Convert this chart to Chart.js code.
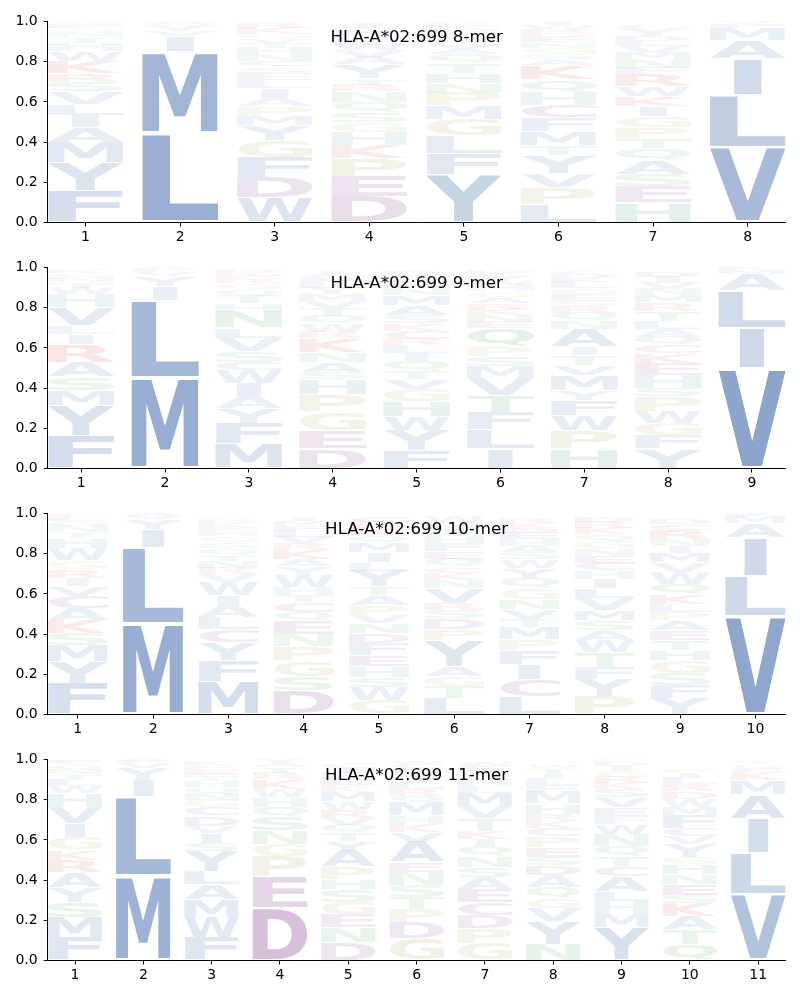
<!DOCTYPE html>
<html>
<head>
<meta charset="utf-8">
<script src="https://cdn.jsdelivr.net/npm/chart.js@4.4.0/dist/chart.umd.min.js"></script>
<style>
  body { margin: 0; background: #fff; }
  .panel { position: absolute; left: 0; width: 800px; height: 246px; }
</style>
</head>
<body>
<div class="panel" style="top:0px"><canvas id="logo8" width="800" height="246"></canvas></div>
<div class="panel" style="top:246px"><canvas id="logo9" width="800" height="246"></canvas></div>
<div class="panel" style="top:492px"><canvas id="logo10" width="800" height="246"></canvas></div>
<div class="panel" style="top:738px"><canvas id="logo11" width="800" height="246"></canvas></div>
<script>
// letters of each position, bottom to top, and their heights
var mer8Letters = ['FYMAILVSRKWHTNQEG', 'LMIVYQA', 'WDFGYMPAILESCNHTVQKR', 'DEPKHGSQNRTYAVWLMFCI',
  'YFLGMPNHTQAVSWEDKR', 'LPVYTMFCHQKASGNEDRWI', 'HESAQTPGIKWRFNMVLDYC', 'VLIAMFY'];
var mer8Heights = [
  [.16, .14, .10, .075, .06, .055, .06, .05, .04, .06, .05, .04, .03, .025, .02, .02, .015],
  [.445, .405, .075, .025, .025, .015, .01],
  [.125, .10, .10, .085, .075, .045, .05, .04, .05, .04, .035, .03, .03, .03, .035, .025, .02, .02, .03, .025],
  [.13, .10, .09, .065, .065, .05, .05, .05, .055, .03, .03, .07, .04, .03, .03, .02, .02, .02, .02, .025],
  [.24, .105, .085, .085, .065, .065, .05, .05, .05, .04, .03, .025, .02, .02, .015, .015, .015, .01],
  [.09, .085, .07, .09, .05, .07, .065, .065, .065, .06, .07, .03, .03, .03, .025, .025, .02, .02, .02, .02],
  [.10, .08, .06, .07, .06, .05, .055, .055, .05, .05, .05, .06, .03, .045, .03, .03, .025, .025, .04, .015],
  [.375, .26, .18, .09, .06, .02, .015]
];

var mer9Letters = ['FYMSARILVHWTNQK', 'MLIYVFA', 'MFYAIWCSVLNHTQGREKD', 'DEGPHSANKRWQTVMYLFCI',
  'FYWHGVTQILRCKSAMNEPD', 'ILFTVMSPQENKRAGHWYCD', 'HPWFYMVTIANQRSEGLKDC', 'YFGWPSHEKCQALTRMNVID', 'VILAMK'];
var mer9Heights = [
  [.165, .15, .075, .065, .075, .09, .05, .04, .09, .065, .03, .03, .025, .02, .02],
  [.45, .385, .07, .05, .02, .015, .01],
  [.125, .10, .075, .06, .065, .065, .04, .055, .065, .05, .08, .04, .04, .03, .03, .02, .02, .015, .015],
  [.10, .09, .095, .085, .075, .035, .05, .05, .07, .03, .04, .04, .04, .035, .03, .03, .025, .02, .02, .02],
  [.09, .10, .07, .075, .06, .05, .04, .05, .04, .04, .03, .04, .035, .04, .05, .05, .035, .03, .03, .025],
  [.10, .095, .085, .085, .085, .06, .05, .05, .09, .03, .035, .03, .025, .03, .03, .03, .02, .025, .015, .015],
  [.10, .09, .075, .075, .05, .075, .05, .05, .04, .09, .04, .04, .03, .03, .03, .03, .03, .02, .02, .015],
  [.10, .065, .06, .06, .075, .04, .065, .06, .05, .04, .04, .04, .04, .05, .04, .035, .03, .03, .03, .025],
  [.50, .20, .185, .08, .02, .015]
];

var mer10Letters = ['FYMSKACVIRGWHTNQLE', 'MLIYVA', 'MFYCLAIWVRNTQSGHEKDP', 'DSGPNEQCTHWYAKRVLFMI',
  'GWSHEFDNVPATYLIMQKRC', 'LTGAYPDSRVNKCQEFHIMW', 'LCIFPMTVNGQYWSAHEDKR', 'PYFTWASMVLIHCENGQKRD',
  'YFSGHTEAPLKQWVMINRCD', 'VLIAMFY'];
var mer10Heights = [
  [.155, .11, .08, .06, .065, .06, .06, .05, .04, .04, .045, .06, .05, .03, .03, .025, .02, .015],
  [.45, .38, .09, .05, .015, .015],
  [.165, .105, .09, .065, .06, .06, .05, .065, .04, .03, .035, .03, .03, .03, .03, .025, .02, .02, .015, .015],
  [.12, .07, .08, .07, .06, .065, .045, .05, .035, .04, .06, .04, .035, .05, .03, .03, .03, .025, .025, .02],
  [.07, .065, .05, .055, .055, .06, .05, .05, .04, .05, .05, .04, .08, .04, .05, .05, .035, .035, .03, .03],
  [.08, .06, .05, .05, .13, .055, .055, .04, .035, .075, .04, .035, .03, .04, .035, .04, .035, .035, .03, .03],
  [.09, .085, .075, .07, .055, .06, .04, .05, .05, .055, .05, .05, .04, .035, .035, .03, .03, .025, .025, .025],
  [.09, .085, .06, .075, .06, .05, .05, .05, .06, .05, .045, .04, .04, .035, .035, .035, .035, .03, .03, .025],
  [.08, .065, .06, .065, .05, .05, .05, .05, .04, .04, .05, .05, .06, .045, .05, .03, .035, .045, .03, .025],
  [.49, .20, .19, .07, .03, .01, .01]
];

var mer11Letters = ['FMSYARKGIVHWLTNQE', 'MLIYVFA', 'FWMALYSIVDCGNQHTEPK', 'DEPGNSQHWKRTAY',
  'DNEGSHPAYTQVRWMKLFIC', 'GDPTSNEAVKHMQRLIYFCW', 'GPDCEASNQIKTVMLHRYFW', 'NYVGQADSEPCKRHMFLITW',
  'YMHLACTQNWFEVSKRGIDP', 'QTAKSENHGYVCFMWDRLIP', 'VLIAMKEQT'];
var mer11Heights = [
  [.115, .10, .075, .075, .075, .06, .05, .065, .065, .08, .07, .035, .03, .03, .025, .025, .02],
  [.42, .395, .08, .06, .025, .01, .01],
  [.115, .10, .09, .075, .065, .10, .04, .05, .035, .05, .04, .04, .03, .03, .03, .03, .025, .025, .02],
  [.26, .155, .10, .065, .065, .07, .05, .045, .04, .05, .03, .03, .02, .02],
  [.09, .075, .065, .06, .065, .05, .06, .08, .05, .04, .04, .035, .04, .04, .05, .03, .03, .03, .025, .02],
  [.11, .08, .065, .06, .06, .065, .05, .10, .05, .04, .04, .065, .035, .03, .03, .025, .03, .02, .02, .015],
  [.085, .075, .065, .065, .065, .06, .05, .055, .05, .035, .04, .06, .06, .07, .03, .03, .03, .025, .02, .015],
  [.08, .115, .065, .05, .055, .06, .05, .04, .05, .055, .04, .035, .035, .05, .06, .03, .03, .025, .03, .015],
  [.165, .065, .065, .05, .075, .05, .05, .05, .06, .05, .04, .04, .05, .04, .03, .03, .03, .025, .02, .015],
  [.08, .075, .065, .065, .04, .055, .05, .05, .035, .065, .04, .04, .065, .04, .04, .035, .035, .03, .025, .02],
  [.33, .205, .17, .12, .07, .04, .02, .02, .015]
];

var titles = ['HLA-A*02:699 8-mer', 'HLA-A*02:699 9-mer', 'HLA-A*02:699 10-mer', 'HLA-A*02:699 11-mer'];
var yTicks = [0, 0.2, 0.4, 0.6, 0.8, 1.0];

// residue colours
var letterColors = {
  A: [76, 114, 176], C: [142, 80, 150], D: [142, 80, 150], E: [142, 80, 150],
  F: [76, 114, 176], G: [176, 168, 96], H: [80, 160, 150], I: [76, 114, 176],
  K: [210, 80, 76], L: [76, 114, 176], M: [76, 114, 176], N: [85, 168, 104],
  P: [176, 168, 96], Q: [85, 168, 104], R: [210, 80, 76], S: [85, 168, 104],
  T: [85, 168, 104], V: [76, 114, 176], W: [76, 114, 176], Y: [88, 128, 172]
};

var glyphFont = 'bold 100px "DejaVu Sans"';
var glyphCache = {};

function glyphBox(ctx, letter) {
  if (!glyphCache[letter]) {
    ctx.font = glyphFont;
    var m = ctx.measureText(letter);
    glyphCache[letter] = {
      left: m.actualBoundingBoxLeft,
      w: m.actualBoundingBoxLeft + m.actualBoundingBoxRight,
      desc: m.actualBoundingBoxDescent,
      h: m.actualBoundingBoxAscent + m.actualBoundingBoxDescent
    };
  }
  return glyphCache[letter];
}

// draws each stacked bar as a stretched letter
var logoPlugin = {
  id: 'logo',
  afterDatasetsDraw: function (chart) {
    var ctx = chart.ctx;
    var letters = chart.options.plugins.logo.letters;
    var heights = chart.options.plugins.logo.heights;
    var area = chart.chartArea;
    var refW = glyphBox(ctx, 'E').w;
    ctx.save();
    ctx.beginPath();
    ctx.rect(area.left, area.top - 1, area.right - area.left, area.bottom - area.top + 1);
    ctx.clip();
    chart.data.datasets.forEach(function (ds, k) {
      var meta = chart.getDatasetMeta(k);
      meta.data.forEach(function (bar, i) {
        var letter = letters[i][k];
        if (!letter) return;
        var p = bar.getProps(['x', 'y', 'base', 'width'], true);
        var top = Math.min(p.y, p.base), bottom = Math.max(p.y, p.base);
        var h = bottom - top;
        if (h < 0.5) return;
        var pad = h * 0.025;
        var g = glyphBox(ctx, letter);
        // narrow glyphs (I) keep their slimmer shape
        var w = p.width * Math.min(1, g.w / refW);
        var c = letterColors[letter];
        var alpha = Math.min(1, 0.04 + 1.2 * heights[i][k]);
        ctx.save();
        ctx.translate(p.x - w / 2, bottom - pad);
        ctx.scale(w / g.w, (h - 2 * pad) / g.h);
        ctx.font = glyphFont;
        ctx.textAlign = 'left';
        ctx.textBaseline = 'alphabetic';
        ctx.fillStyle = 'rgba(' + c[0] + ',' + c[1] + ',' + c[2] + ',' + alpha.toFixed(3) + ')';
        ctx.fillText(letter, g.left, -g.desc);
        ctx.restore();
      });
    });
    ctx.restore();
  },
  afterDraw: function (chart) {
    var ctx = chart.ctx;
    var area = chart.chartArea;
    ctx.save();
    ctx.font = '16.67px "DejaVu Sans"';
    ctx.fillStyle = '#000';
    ctx.textAlign = 'center';
    ctx.textBaseline = 'alphabetic';
    ctx.fillText(chart.options.plugins.logo.title, (area.left + area.right) / 2, area.top + 20.5);
    ctx.restore();
  }
};

function makeLogo(canvasId, title, letters, heights) {
  var n = letters.length;
  var positions = letters.map(function (s, i) { return i + 1; });
  var depth = Math.max.apply(null, letters.map(function (s) { return s.length; }));
  var datasets = [];
  for (var k = 0; k < depth; k++) {
    datasets.push({
      data: positions.map(function (x, i) { return { x: x, y: heights[i][k] || 0 }; }),
      backgroundColor: 'rgba(0,0,0,0)',
      borderWidth: 0,
      categoryPercentage: 1,
      barPercentage: 0.8
    });
  }
  var tickFont = { family: '"DejaVu Sans"', size: 14 };
  return new Chart(document.getElementById(canvasId), {
    type: 'bar',
    data: { datasets: datasets },
    options: {
      responsive: false,
      animation: false,
      events: [],
      layout: { padding: { left: 0, right: 14.5, top: 21.5, bottom: 0 } },
      plugins: {
        legend: { display: false },
        tooltip: { enabled: false },
        logo: { title: title, letters: letters, heights: heights }
      },
      scales: {
        x: {
          type: 'linear',
          stacked: true,
          offset: false,
          min: 0.6,
          max: n + 0.4,
          afterBuildTicks: function (s) { s.ticks = positions.map(function (v) { return { value: v }; }); },
          afterFit: function (s) { s.height = 23.5; },
          ticks: { font: tickFont, color: '#000', padding: 2, maxRotation: 0, autoSkip: false },
          grid: { display: true, offset: false, drawOnChartArea: false, drawTicks: true, tickLength: 4, color: '#000' },
          border: { display: true, color: '#000', width: 1 }
        },
        y: {
          stacked: true,
          min: 0,
          max: 1,
          afterBuildTicks: function (s) { s.ticks = yTicks.map(function (v) { return { value: v }; }); },
          afterFit: function (s) { s.width = 47.7; },
          ticks: { font: tickFont, color: '#000', padding: 6, callback: function (v) { return v.toFixed(1); } },
          grid: { display: true, drawOnChartArea: false, drawTicks: true, tickLength: 4, color: '#000' },
          border: { display: true, color: '#000', width: 1 }
        }
      }
    },
    plugins: [logoPlugin]
  });
}

makeLogo('logo8', titles[0], mer8Letters, mer8Heights);
makeLogo('logo9', titles[1], mer9Letters, mer9Heights);
makeLogo('logo10', titles[2], mer10Letters, mer10Heights);
makeLogo('logo11', titles[3], mer11Letters, mer11Heights);
</script>
</body>
</html>
